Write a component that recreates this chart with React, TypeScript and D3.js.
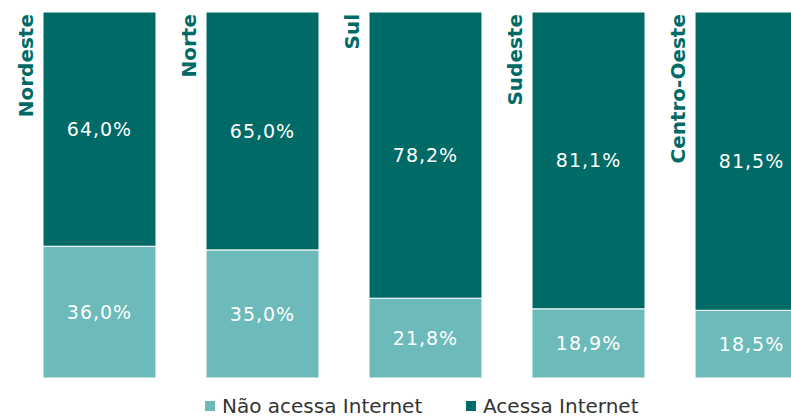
import React from "react";
import { scaleBand, scaleLinear } from "d3";

const regions = ["Nordeste", "Norte", "Sul", "Sudeste", "Centro-Oeste"];
const naoAcessa = [36.0, 35.0, 21.8, 18.9, 18.5];
const acessa = [64.0, 65.0, 78.2, 81.1, 81.5];
const seriesNames = ["Não acessa Internet", "Acessa Internet"];
const colors = ["#6cbab9", "#006a66"];

const fmt = (v: number) => v.toFixed(1).replace(".", ",") + "%";

export default function App() {
  const width = 791;
  const height = 418;

  const x = scaleBand<string>()
    .domain(regions)
    .range([43, 808])
    .paddingInner(0.307)
    .paddingOuter(0);

  const y = scaleLinear().domain([0, 100]).range([378, 12]);
  const font = "'DejaVu Sans', sans-serif";

  return (
    <svg
      width={width}
      height={height}
      style={{ position: "absolute", left: 0, top: 0, background: "#fff" }}
    >
      {regions.map((r, i) => {
        const x0 = x(r) as number;
        const bw = x.bandwidth();
        const lowTop = y(naoAcessa[i]);
        const highTop = y(naoAcessa[i] + acessa[i]);
        return (
          <g key={r}>
            <rect
              x={x0}
              y={lowTop}
              width={bw}
              height={y(0) - lowTop}
              fill={colors[0]}
              stroke="#fff"
              strokeWidth={1}
            />
            <rect
              x={x0}
              y={highTop}
              width={bw}
              height={lowTop - highTop}
              fill={colors[1]}
              stroke="#fff"
              strokeWidth={1}
            />
            <text
              x={x0 + bw / 2}
              y={(lowTop + y(0)) / 2}
              fill="#fff"
              fontFamily={font}
              fontSize={19}
              letterSpacing={1}
              textAnchor="middle"
              dominantBaseline="central"
            >
              {fmt(naoAcessa[i])}
            </text>
            <text
              x={x0 + bw / 2}
              y={(highTop + lowTop) / 2}
              fill="#fff"
              fontFamily={font}
              fontSize={19}
              letterSpacing={1}
              textAnchor="middle"
              dominantBaseline="central"
            >
              {fmt(acessa[i])}
            </text>
            <text
              transform={`translate(${x0 - 17},${highTop + 2}) rotate(-90)`}
              fill={colors[1]}
              fontFamily={font}
              fontWeight="bold"
              fontSize={20}
              textAnchor="end"
              dominantBaseline="central"
            >
              {r}
            </text>
          </g>
        );
      })}
      {seriesNames.map((s, i) => {
        const lx = [205, 466][i];
        return (
          <g key={s}>
            <rect x={lx} y={401} width={10} height={10} fill={colors[i]} />
            <text
              x={lx + 17}
              y={406}
              fill="#333"
              fontFamily={font}
              fontSize={20}
              dominantBaseline="central"
            >
              {s}
            </text>
          </g>
        );
      })}
    </svg>
  );
}
